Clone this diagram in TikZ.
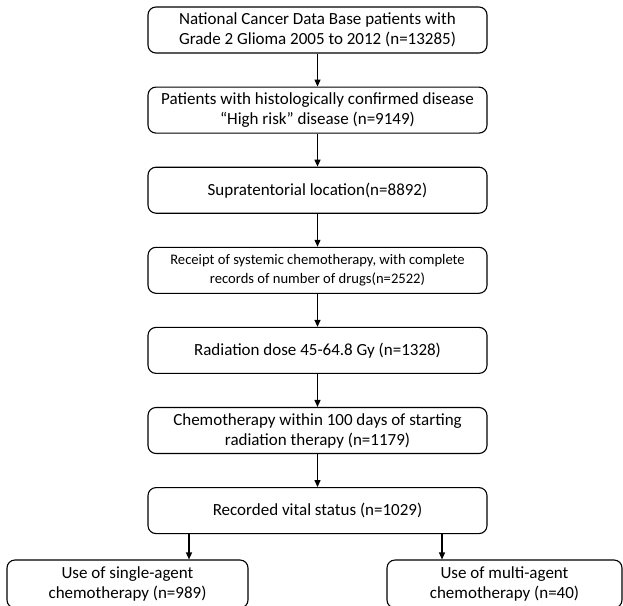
\documentclass[tikz,border=0pt]{standalone}
\usepackage{fontspec}
\setmainfont{Carlito}
\usetikzlibrary{positioning,arrows.meta}

\begin{document}
\begin{tikzpicture}[
            x=1pt, y=-1pt,
            node distance=33pt,
            box/.style={rectangle, draw, line width=1.1pt, rounded corners=8pt, minimum width=339pt, minimum height=46pt, align=center, font=\fontsize{17}{20}\selectfont},
            smallbox/.style={box, font=\fontsize{14.6}{19}\selectfont},
            endbox/.style={rectangle, draw, line width=1.1pt, rounded corners=8pt, minimum height=48pt, align=center, font=\fontsize{17}{20.5}\selectfont},
            arrow/.style={-{Triangle[length=7pt,width=6pt]}, line width=1.3pt}
            ]
            \useasboundingbox (0,0) rectangle (623,605);

            % Main flow
            \node[box] (ncdb) at (317.5,30) {National Cancer Data Base patients with\\Grade 2 Glioma 2005 to 2012 (n=13285)};
            \node[box, below=of ncdb] (histo) {Patients with histologically confirmed disease\\“High risk” disease (n=9149)};
            \node[box, below=of histo] (supra) {Supratentorial location(n=8892)};
            \node[smallbox, below=of supra] (receipt) {Receipt of systemic chemotherapy, with complete\\records of number of drugs(n=2522)};
            \node[box, below=of receipt] (dose) {Radiation dose 45-64.8 Gy (n=1328)};
            \node[box, below=of dose] (timing) {Chemotherapy within 100 days of starting\\radiation therapy (n=1179)};
            \node[box, below=of timing] (vital) {Recorded vital status (n=1029)};

            % Outcome boxes
            \node[endbox, minimum width=241pt] (single) at (127.5,584) {Use of single-agent\\chemotherapy (n=989)};
            \node[endbox, minimum width=235pt] (multi) at (504.5,584) {Use of multi-agent\\chemotherapy (n=40)};

            % Arrows
            \draw[arrow] (ncdb) -- (histo);
            \draw[arrow] (histo) -- (supra);
            \draw[arrow] (supra) -- (receipt);
            \draw[arrow] (receipt) -- (dose);
            \draw[arrow] (dose) -- (timing);
            \draw[arrow] (timing) -- (vital);
            \coordinate (splitL) at (189,0);
            \coordinate (splitR) at (442,0);
            \draw[arrow] (splitL |- vital.south) -- (splitL |- single.north);
            \draw[arrow] (splitR |- vital.south) -- (splitR |- multi.north);

        \end{tikzpicture}
\end{document}
